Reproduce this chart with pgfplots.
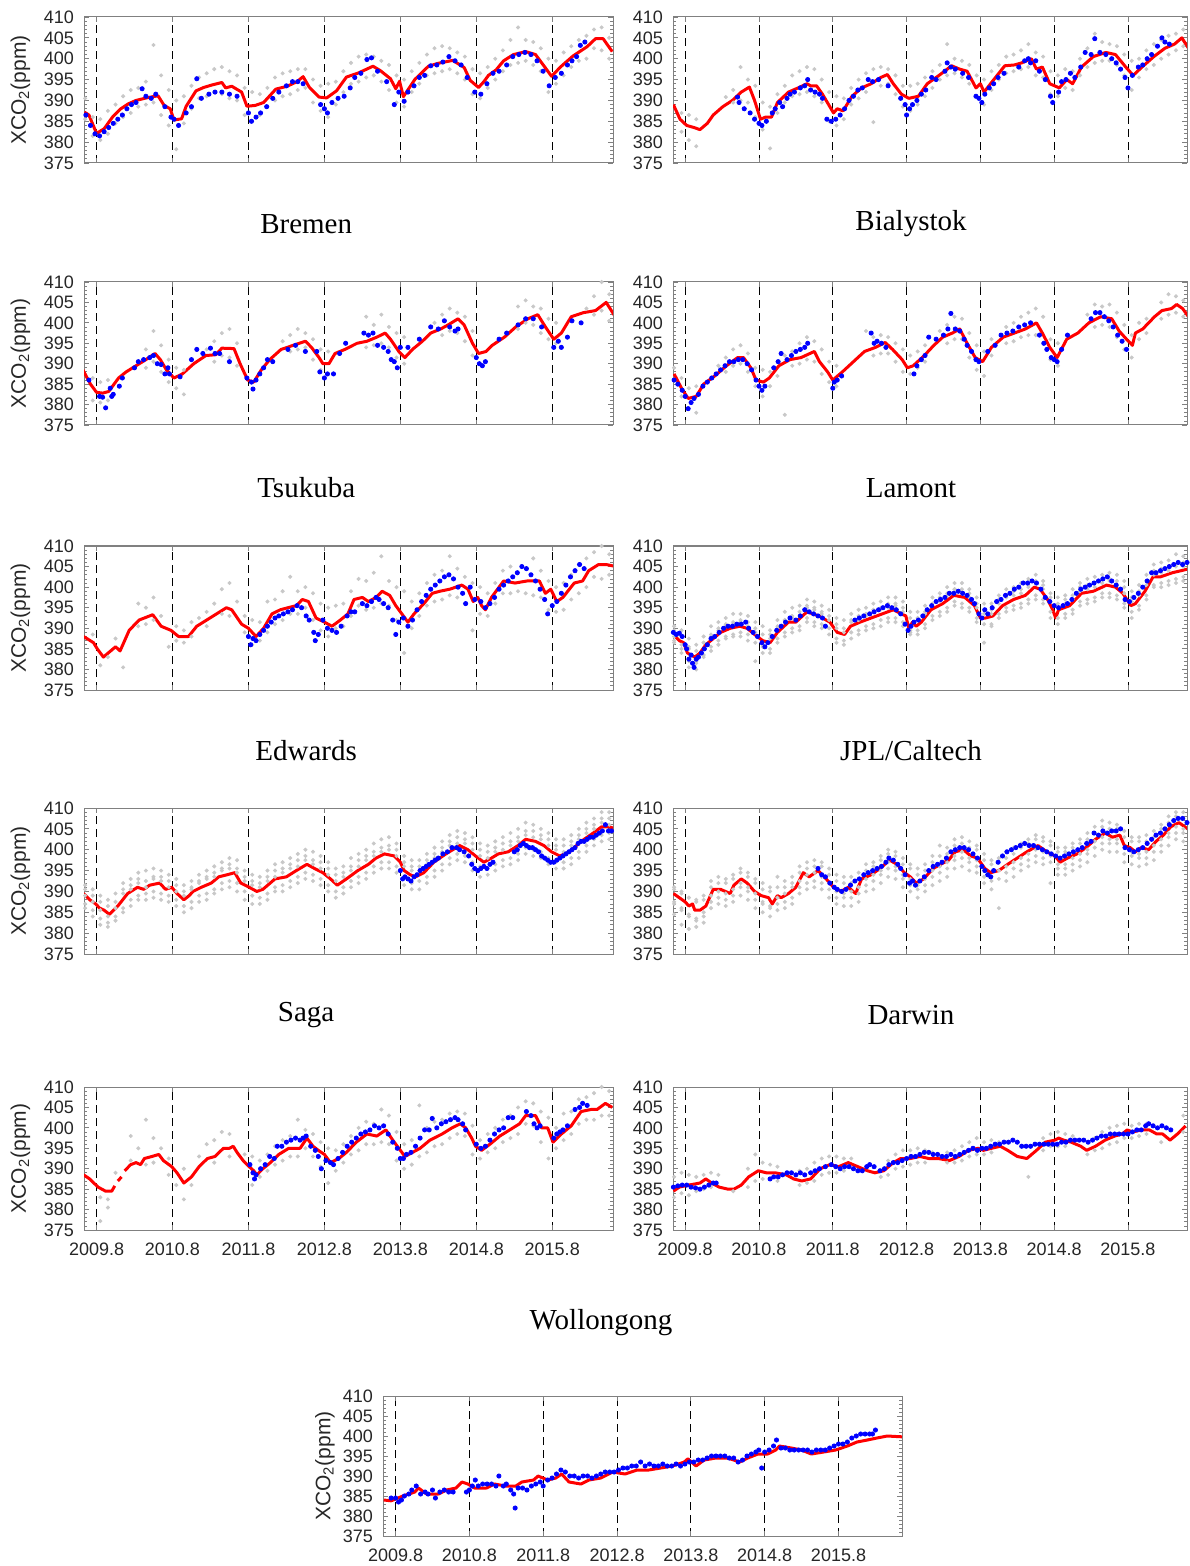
\documentclass[border=0pt]{standalone}
\usepackage{fontspec}
\setmainfont{Liberation Serif}
\setsansfont{Liberation Sans}
\usepackage{pgfplots}
\usepackage{pgfplotstable}
\pgfplotsset{compat=1.18}
\definecolor{grayc}{RGB}{200,200,200}
\definecolor{tickc}{RGB}{38,38,38}
\definecolor{framec}{RGB}{128,128,128}

\pgfplotsset{
 panel/.style={scale only axis, anchor=north west, xmin=2009.635, xmax=2016.6, ymin=375, ymax=410,
   ytick={375,380,385,390,395,400,405,410},
   xtick={2009.8,2010.8,2011.8,2012.8,2013.8,2014.8,2015.8},
   xticklabels={}, minor y tick num=4,
   xmajorgrids, major x grid style={black, dash pattern=on 4pt off 2.5pt, line width=0.45pt},
   axis line style={framec, line width=0.5pt},
   tick align=inside, major tick length=2.5pt, minor tick length=1.5pt,
   tick style={framec, line width=0.4pt},
   tick label style={font=\sffamily\fontsize{9}{9}\selectfont, text=tickc},
   yticklabel style={xshift=-1.5pt},
   xticklabel style={yshift=-2.8pt},
   /pgf/number format/assume math mode=true,
   every axis y label/.style={at={(axis description cs:-0.12,0.5)}, rotate=90, anchor=center, font=\sffamily\fontsize{10.5}{10.5}\selectfont, text=tickc},
   every axis title/.style={at={(axis description cs:0.42,1)}, anchor=center, font=\fontsize{14.5}{16}\selectfont},
 },
 yl/.style={ylabel={XCO\textsubscript{2}(ppm)}},
 xl/.style={xticklabels={2009.8,2010.8,2011.8,2012.8,2013.8,2014.8,2015.8}},
 rt/.style={title style={at={(axis description cs:0.463,1)}}},
 gpt/.style={only marks, mark=*, mark size=0.8pt, color=grayc, mark options={draw=none, fill=grayc}, forget plot},
 bpt/.style={only marks, mark=*, mark size=1.05pt, color=blue, mark options={draw=none, fill=blue}},
 rln/.style={color=red, line width=1.5pt, mark=none, line join=round, unbounded coords=jump},
}

% ---------------- gray scatter tables ----------------
\pgfplotstableread{
x g1 g2
2009.65 390.5 385.5
2009.75 386.0 381.5
2009.85 385.5 380.5
2009.95 387.5 382.0
2010.05 389.0 384.5
2010.15 391.0 386.0
2010.25 392.5 387.0
2010.35 393.0 388.5
2010.45 394.5 389.0
2010.55 403.3 389.5
2010.65 396.0 386.5
2010.75 392.5 384.0
2010.85 390.0 378.3
2010.95 391.0 384.5
2011.05 393.5 388.0
2011.15 395.5 390.5
2011.25 396.5 391.0
2011.35 397.5 392.0
2011.45 398.0 391.5
2011.55 397.0 390.5
2011.65 396.0 390.0
2011.75 393.0 386.5
2011.85 392.0 385.0
2011.95 391.5 386.5
2012.05 393.0 388.5
2012.15 395.5 390.0
2012.25 396.5 391.0
2012.35 397.0 391.5
2012.45 397.5 392.5
2012.55 397.5 393.0
2012.65 395.0 389.5
2012.75 393.5 387.5
2012.85 394.0 386.0
2012.95 394.5 389.0
2013.05 397.0 392.0
2013.15 399.0 394.0
2013.25 400.5 394.5
2013.35 401.0 395.5
2013.45 400.5 396.0
2013.55 399.5 394.5
2013.65 398.5 392.5
2013.75 396.0 389.5
2013.85 395.0 388.5
2013.95 397.0 392.0
2014.05 399.0 394.0
2014.15 401.0 396.0
2014.25 402.5 396.5
2014.35 403.0 397.0
2014.45 402.5 397.5
2014.55 401.5 396.5
2014.65 400.5 395.0
2014.75 397.5 391.5
2014.85 396.5 390.5
2014.95 398.0 393.0
2015.05 400.0 395.0
2015.15 402.0 397.0
2015.25 404.5 398.5
2015.35 407.5 399.0
2015.45 404.5 399.5
2015.55 404.0 398.5
2015.65 402.5 397.0
2015.75 400.0 392.0
2015.85 399.5 394.0
2015.95 401.5 396.0
2016.05 403.0 398.0
2016.15 404.5 399.5
2016.25 405.5 400.0
2016.35 407.0 402.5
2016.45 407.5 402.0
2016.55 405.0 400.0
}\gA

\pgfplotstableread{
x g1 g2
2009.75 387 382.5
2009.85 386.5 380.5
2009.95 385.5 379
2010.35 390.8 nan
2010.45 392.5 389.5
2010.55 398 390
2010.65 395 389.5
2010.75 393.5 386
2010.85 389.5 383
2010.95 388.5 378.5
2011.05 391.5 387
2011.15 393.5 389.5
2011.25 396 391
2011.35 397 391.5
2011.45 398 392
2011.55 397.5 391
2011.65 395 389.5
2011.75 392 385
2011.85 391 384
2011.95 390.5 385.5
2012.05 393 389
2012.15 395 390.5
2012.25 396.5 392
2012.35 397.5 384.8
2012.45 398 393.5
2012.55 397.5 394
2012.65 396 391.5
2012.75 393.5 388.5
2012.85 393.5 387.5
2012.95 394 389
2013.05 395.5 391
2013.15 397 393
2013.25 398.5 395
2013.35 403.5 396
2013.45 400 396.5
2013.55 399.5 395.5
2013.65 398.5 394
2013.75 396 391
2013.85 395 389
2013.95 397 392.5
2014.05 398.5 395
2014.15 400.5 396.5
2014.25 401 397
2014.35 402 397.5
2014.45 403.5 398
2014.55 401.5 396
2014.65 400.5 395.5
2014.75 397 391.5
2014.85 396 391
2014.95 397.5 393
2015.05 397 392.5
2015.15 400 396
2015.25 402.5 398
2015.35 406 399
2015.45 404 399.5
2015.55 403.5 399.5
2015.65 403 398.5
2015.75 401 396
2015.85 399.5 392.5
2015.95 400 395.5
2016.05 402 397.5
2016.15 403.5 398.5
2016.25 404.5 400
2016.35 405.5 401
2016.45 406 402
2016.55 407 403
}\gB

\pgfplotstableread{
x g1 g2
2009.75 386.5 381
2009.85 385.5 380.5
2009.95 386 381
2010.45 393.5 389
2010.55 398 390.5
2010.65 394.5 388
2010.75 391 385.5
2010.85 389 384
2010.95 388.5 382.5
2011.25 393.5 nan
2011.35 395.5 390.5
2011.45 397.5 392
2011.55 398.5 391.5
2011.65 395 389.5
2012.25 395.5 nan
2012.35 397 393
2012.45 398.5 393.5
2012.55 397.5 394
2012.65 396 391
2012.75 393.5 388.5
2012.85 393 387.5
2013.35 401.5 394
2013.45 399.5 394.5
2013.55 402 395
2013.65 399 394
2013.75 397.5 391.5
2013.85 396.5 390
2014.25 400 nan
2014.35 402 397
2014.45 403.5 398
2014.55 402.5 397.5
2014.65 401.5 395.5
2014.75 398 392
2015.35 404 398.5
2015.45 405.5 400
2015.55 404 399.5
2015.65 403.5 397.5
2015.75 401 396
2015.85 400 395
2016.25 403.5 nan
2016.35 406.5 402
2016.45 410 403
2016.55 407 400.5
}\gC

\pgfplotstableread{
x g1 g2
2009.65 389 386
2009.75 386.5 382
2009.85 384 379
2009.95 384.5 378
2010.25 389.5 nan
2010.35 391.5 388
2010.45 393.5 389.5
2010.55 394.5 390
2010.65 392.5 388
2010.75 389 384.5
2010.85 388.5 382
2010.95 388 384.5
2011.05 390.5 387
2011.15 392 377.5
2011.25 393 389.5
2011.35 395 390
2011.45 396.5 391
2011.55 395.5 390.5
2011.65 393.5 387.5
2011.75 390.5 385.5
2011.85 389.5 384.5
2012.25 398 nan
2012.35 396.5 392
2012.45 397 392.5
2012.55 396.5 392.5
2012.65 395 390.5
2012.75 393.5 388
2012.85 392 387.5
2012.95 393 389
2013.05 394.5 390.5
2013.25 398 nan
2013.35 399.5 395
2013.45 401.5 396
2013.55 401 396
2013.65 397.5 391.5
2013.75 394.5 388.5
2013.85 393 387
2013.95 396 392
2014.15 399 395
2014.25 400 395.5
2014.35 401.5 396.5
2014.45 402.5 397
2014.55 403.5 397
2014.65 401.5 395
2014.75 396 391
2014.85 395 389.5
2015.25 402 nan
2015.35 404.5 399
2015.45 404 399.5
2015.55 404.5 399
2015.65 402.5 396.5
2015.75 399.5 393.5
2015.85 397 391.5
2015.95 400 396
2016.05 401 397.5
2016.25 405 401
2016.35 407 402
2016.45 406.5 402.5
2016.55 405.5 401.5
}\gD

\pgfplotstableread{
x g1 g2
2009.75 388.5 nan
2009.85 nan 381
2009.95 nan 383
2010.05 387.5 nan
2010.15 nan 380.5
2010.35 396 390.5
2010.45 395 391
2010.55 397.5 392
2010.65 393 nan
2010.75 nan 385.5
2010.85 390.5 387
2010.95 389.5 386.5
2011.05 391.5 388
2011.15 392.5 nan
2011.25 394 390.5
2011.35 396 nan
2011.45 399.5 393.5
2011.55 401 393
2011.65 396.5 nan
2011.75 393 389
2011.85 392 386
2011.95 391.5 387
2012.05 396.5 389
2012.15 397 391
2012.25 399 392
2012.35 402.5 393.5
2012.45 399 393.5
2012.55 400 395
2012.65 398.5 392
2012.75 396 389.5
2012.85 395 388
2012.95 395.5 390
2013.05 396 390.5
2013.15 399 393
2013.25 402 395.5
2013.35 401.5 394.5
2013.45 403.5 395
2013.55 407.5 396
2013.65 401.5 395.5
2013.75 400 392
2013.85 399 384
2013.95 396.5 390
2014.05 398.5 393
2014.15 401 395.5
2014.25 403 396.5
2014.35 404 397
2014.45 407.5 398
2014.55 404.5 397.5
2014.65 402.5 396
2014.75 401 389.5
2014.85 400 393.5
2014.95 398.5 393
2015.05 401 396
2015.15 404 398.5
2015.25 405 398.5
2015.35 403.5 399
2015.45 404.5 398.5
2015.55 407 398
2015.65 404 397.5
2015.75 401.5 394.5
2015.85 400 394
2015.95 401 394.5
2016.05 403 397
2016.15 405.5 398.5
2016.25 407 400
2016.35 408.5 402.5
2016.45 410 402
2016.55 408 403
}\gE

\pgfplotstableread{
x g1 g2 g3 g4 g5
2009.65 390.5 386.5 388 389.5 387
2009.75 389.5 384 386 388 385
2009.85 387.5 380.5 385 385.5 382
2009.95 386 380 382 384.5 381.5
2010.05 388 383 386.5 386.5 383.5
2010.15 390.5 384.5 388 388.5 385.5
2010.25 391.5 386 389.5 390 387
2010.35 392.5 387.5 390.5 391 388
2010.45 393.5 388 391 391.5 388.5
2010.55 393.5 388 391.5 392 389
2010.65 393 387 390.5 391.5 388.5
2010.75 391.5 382 389 390 386.5
2010.85 390.5 384 386 388.5 385.5
2010.95 389.5 384 387.5 388.5 385
2011.05 392 386.5 390 390.5 387.5
2011.15 394 388 392 392 389
2011.25 395 389 392.5 393 390
2011.35 395.5 389.5 393 394 390.5
2011.45 397 391.5 395 395.5 392.5
2011.55 396.5 390.5 394.5 395 391.5
2011.65 395.5 390 393.5 394 391
2011.75 394.5 388.5 392 393 390
2011.85 392.5 386.5 390 391 387.5
2011.95 392 386 389 390 387
2012.05 393.5 387.5 391.5 392 389
2012.15 394.5 388.5 392 393 389.5
2012.25 395 389.5 393 393.5 390.5
2012.35 396 390 394 394.5 391
2012.45 396.5 390.5 394.5 395 392
2012.55 397.5 391.5 395 396 392.5
2012.65 397.5 391.5 395.5 396 392.5
2012.75 396.5 390.5 394 395 391.5
2012.85 394 388.5 389.5 392.5 389
2012.95 394 388.5 392 392.5 389.5
2013.05 395.5 390 393.5 394 391
2013.15 397.5 392 395.5 396 393
2013.25 398.5 393 396.5 397.5 394
2013.35 400 394 398 398.5 395
2013.45 401 395.5 399.5 399.5 396.5
2013.55 401 395 398.5 399.5 396
2013.65 399.5 394 397.5 398.5 395
2013.75 397.5 391.5 395 396 392.5
2013.85 396 386.5 393.5 394.5 391
2013.95 396 390.5 393.5 394.5 391
2014.05 398 392.5 396 397 393.5
2014.15 399.5 394 397.5 398 395
2014.25 400 394.5 398 399 395.5
2014.35 401 395 398.5 399.5 396
2014.45 402 396 400 400.5 397
2014.55 403 397 401 401.5 398
2014.65 401.5 396 399.5 400.5 397
2014.75 398.5 392.5 396.5 397.5 394
2014.85 397.5 391 395 396 392.5
2014.95 398 392.5 396 397 393.5
2015.05 399.5 393.5 397 398 394.5
2015.15 401 395.5 399 400 396.5
2015.25 402 396 399.5 400.5 397
2015.35 402.5 396.5 400 401 397.5
2015.45 403 397.5 401 402 398.5
2015.55 403.5 397.5 401.5 402 398.5
2015.65 403 397 400.5 401.5 398
2015.75 401.5 395 398.5 400 396
2015.85 399 392.5 396.5 397.5 394
2015.95 400.5 394.5 398 399 395.5
2016.05 403 397 400.5 401.5 398
2016.15 405.5 400 403 404 400.5
2016.25 406 400 403.5 404.5 401
2016.35 406.5 400.5 404 405 401.5
2016.45 408 401 405 405.5 402
2016.55 407.5 401.5 405 406 402.5
}\gF

\pgfplotstableread{
x g1 g2 g3 g4 g5
2009.65 391.5 386 389 390.5 387
2009.75 390.5 384 387.5 389 385.5
2009.85 389 382 385.5 387.5 383.5
2009.95 388 381.5 384 386.5 382.5
2010.05 389.5 383 386 387.5 384
2010.15 392 385 389.5 390.5 386
2010.25 393 386.5 390.5 391.5 388
2010.35 394.5 388 392 393 389
2010.45 395 388 391 392.5 389.5
2010.55 395.5 388.5 393 393.5 390
2010.65 395 388 392.5 393.5 389.5
2010.75 394 387.5 391 392.5 389
2010.85 393 386.5 390 391.5 388
2010.95 391.5 385 389 390 386.5
2011.05 392.5 386 390.5 391 387.5
2011.15 394 387.5 392 392.5 389
2011.25 395 388 393 393.5 389.5
2011.35 396 389.5 393.5 394.5 390.5
2011.45 397 390.5 395 395.5 392
2011.55 398 391 395.5 396.5 392.5
2011.65 397.5 390 394.5 395.5 392
2011.75 395 388 392.5 393.5 390
2011.85 394 387 391.5 392.5 389
2011.95 393.5 387 391 392 388.5
2012.05 395 388 392.5 393.5 389.5
2012.15 396.5 390 393.5 395 391
2012.25 397 390 394.5 395.5 391.5
2012.35 398 391 395.5 396.5 392.5
2012.45 399 392 396 397.5 393.5
2012.55 400 393 397.5 398.5 394.5
2012.65 399.5 392.5 396.5 397.5 394
2012.75 398.5 391.5 395.5 397 393
2012.85 397 390 394 395.5 391.5
2012.95 395.5 388.5 392.5 394 390
2013.05 396 389.5 393.5 394.5 391
2013.15 398 391 395 396 392.5
2013.25 399 392 396 397.5 393.5
2013.35 400 393 397.5 398.5 394.5
2013.45 401.5 394.5 398.5 399.5 396
2013.55 402.5 395.5 399.5 400.5 397
2013.65 403 395.5 400 401 397
2013.75 401.5 394.5 398.5 400 396
2013.85 398.5 391.5 396 397 393.5
2013.95 397.5 390.5 395 396 392
2014.05 397.5 390.5 395 396 392.5
2014.15 399 392 396.5 397.5 393.5
2014.25 400.5 393.5 398 399 395
2014.35 402 395 399.5 400.5 396.5
2014.45 403.5 396.5 401 402 398
2014.55 404.5 397.5 401.5 403 399
2014.65 404 397 401.5 402.5 398.5
2014.75 403 395 400 401.5 397
2014.85 401.5 393.5 398.5 400 396
2014.95 401 394 398 399.5 395.5
2015.05 402 395 399.5 400.5 396.5
2015.15 403 396 400 401.5 397.5
2015.25 404 396.5 401 402 398
2015.35 405 397.5 402 403 399
2015.45 406.5 399 403.5 404.5 400.5
2015.55 406 398.5 403 404.5 400
2015.65 405 398 402.5 403.5 399.5
2015.75 404 396.5 401 402.5 398
2015.85 402.5 395.5 400 401 397
2015.95 402.5 395.5 399.5 401 397
2016.05 403.5 396.5 401 402 398
2016.15 405 398 402.5 403.5 399.5
2016.25 406.5 399.5 404 405 401
2016.35 407.5 401 405 406 402.5
2016.45 409 402 406.5 407.5 403.5
2016.55 409 402.5 406 407.5 404
}\gG

\pgfplotstableread{
x g1 g2 g3 g4 g5
2009.65 390.5 384.5 387.5 391 387
2009.75 389.5 382 385.5 390 386
2009.85 388.5 381 384 388.5 384.5
2009.95 388 381.5 383.5 387.5 383
2010.05 389 382.5 385 388 384
2010.15 392.5 386 389 391 387.5
2010.25 393.5 387 390 392 388.5
2010.35 393 386.5 389.5 392 388
2010.45 394 387.5 390.5 393 389
2010.55 395.5 389 392 394.5 391
2010.65 394.5 388 391 393.5 390
2010.75 393 386 389.5 392 388
2010.85 392 385 387.5 390.5 387
2010.95 391 384 386.5 390 386
2011.05 393.5 385.5 388.5 391 387
2011.15 392.5 386 389.5 391 387.5
2011.25 393.5 387 391 392 388.5
2011.35 396 389.5 392.5 394.5 391
2011.45 397 390.5 394 395.5 392
2011.55 397.5 391 394.5 396 392.5
2011.65 397 390.5 393.5 396 392
2011.75 395.5 388.5 392 394 390.5
2011.85 394 387 390 392.5 388.5
2011.95 393.5 386.5 389.5 392 388.5
2012.05 393.5 386.5 390 392 388.5
2012.15 394.5 387.5 391 393 389.5
2012.25 396.5 390 393 395 391.5
2012.35 397 390.5 394 396 392.5
2012.45 398.5 392 395 397.5 394
2012.55 400 393.5 397 399 395.5
2012.65 399.5 393 396 398.5 395
2012.75 398 391 394 396.5 393
2012.85 396.5 390 393 395.5 391.5
2012.95 395.5 388.5 391.5 394 390.5
2013.05 396.5 390 393 395 391.5
2013.15 398.5 391.5 395 397 393.5
2013.25 401 392.5 396 398.5 394.5
2013.35 400.5 393.5 397 399 395.5
2013.45 402.5 395.5 398.5 401 397.5
2013.55 403 396 399.5 401.5 398
2013.65 402 395 398 400.5 397
2013.75 401 394.5 397.5 400 396
2013.85 399 392 395 397.5 393.5
2013.95 397.5 390.5 393.5 396.5 392.5
2014.05 398 386 395 397 393
2014.15 399.5 392.5 396 398 394.5
2014.25 400.5 393.5 397 399 395.5
2014.35 401.5 395 398 400.5 396.5
2014.45 402.5 396 399 401.5 397.5
2014.55 403.5 397 400 402.5 398.5
2014.65 403 396.5 399.5 402 398
2014.75 402 392 398.5 401 397
2014.85 400.5 394 396.5 399.5 395.5
2014.95 400.5 394 396.5 399.5 395.5
2015.05 401.5 395 398 400.5 396.5
2015.15 402.5 396 399 401.5 397.5
2015.25 404 397 400 402.5 399
2015.35 405.5 398.5 402 404 400.5
2015.45 407 400 403 405.5 401.5
2015.55 406.5 399.5 402.5 405 401.5
2015.65 406 399.5 402.5 405 401.5
2015.75 404.5 397 400.5 403 399
2015.85 403 396.5 399.5 402 398.5
2015.95 403 396 399 402 398
2016.05 403.5 396.5 399.5 402 398
2016.15 404.5 397.5 401 403 399.5
2016.25 406 399.5 402.5 405 401
2016.35 408 401 404 406.5 403
2016.45 409 402.5 405.5 408 404
2016.55 409 402 405 407.5 404
}\gH

\pgfplotstableread{
x g1 g2
2009.85 383 377.2
2009.95 382.5 380.5
2010.05 389 nan
2010.25 398 392
2010.35 395 nan
2010.45 402 391
2010.55 397.5 391.5
2010.65 395 nan
2010.75 392.5 388.5
2010.85 nan 386
2010.95 390 382.5
2011.05 nan 386
2011.15 393 nan
2011.25 396 nan
2011.35 397 391.5
2011.45 399 nan
2011.55 398.5 393
2011.75 393.5 nan
2011.85 393 386
2011.95 392 388
2012.05 393.5 389.5
2012.15 395.5 391
2012.25 397 392
2012.35 398 393
2012.45 402 393
2012.55 399.5 395
2012.65 398.5 393
2012.75 396.5 390.5
2012.85 395 386.5
2012.95 394.5 389.5
2013.05 396 391.5
2013.15 398 393.5
2013.25 400 394.5
2013.35 401.5 396
2013.45 401 396
2013.55 404.5 396.5
2013.65 403 396
2013.75 399 392
2013.85 396 390
2013.95 397 391
2014.05 405.5 393
2014.15 400 394
2014.25 401.5 395.5
2014.35 402 396
2014.45 403.5 397.5
2014.55 404 398.5
2014.65 403.5 398
2014.75 400.5 393.5
2014.85 397 392.5
2014.95 398.5 394
2015.05 400 395
2015.15 402 396.5
2015.25 403 397.5
2015.35 405 398.5
2015.45 406.5 401
2015.55 406 400.5
2015.65 404 396.5
2015.75 402.5 392.5
2015.85 400 395
2015.95 403.5 397
2016.05 404 398.5
2016.15 407 401
2016.25 407.5 402
2016.35 408.5 402
2016.45 410 403
2016.55 409 403
}\gI

\pgfplotstableread{
x g1 g2
2009.65 388 383
2009.75 389 384
2009.85 388.5 383.5
2009.95 388 384.5
2010.05 388.5 385
2010.15 389 385.5
2010.25 388.5 nan
2010.45 nan 384.5
2010.65 390 385.5
2010.75 393.5 387
2010.85 391.5 387.5
2010.95 391 387.5
2011.05 390.5 387
2011.35 389.5 386
2011.45 390 386.5
2011.55 391.5 387
2011.65 392.5 388.5
2011.75 393 389
2011.85 393 389
2011.95 392.5 389.5
2012.05 392.5 nan
2012.45 nan 388
2012.55 392 388.5
2012.65 393.5 390
2012.75 394.5 390.5
2012.85 394.5 391
2012.95 395 391.5
2013.05 394.5 391.5
2013.15 394 nan
2013.35 394 391.5
2013.45 394.5 391.5
2013.55 395.5 392
2013.65 396.5 393
2013.75 397.5 393.5
2013.85 396.5 393.5
2013.95 397 394
2014.05 396.5 nan
2014.45 nan 388
2014.65 397.5 394.5
2014.75 398.5 395.5
2014.85 399 395.5
2014.95 398.5 395.5
2015.05 398 nan
2015.25 nan 393.5
2015.35 397.5 394.5
2015.45 399 395
2015.55 400 396
2015.65 400.5 396.5
2015.75 401 397.5
2015.85 400.5 397.5
2015.95 401 398
2016.05 401 398.5
2016.15 400.5 nan
2016.25 nan 396.5
2016.55 403 399
}\gJ

\begin{document}
\begin{tikzpicture}
\useasboundingbox (0,0) rectangle (594.5pt,-783pt);

% ===== A (row 1 left) =====
\begin{axis}[panel, yl, at={(42pt,-8.5pt)}, width=264.5pt, height=73pt]
\addplot[gpt] table[x=x,y=g1]{\gA};
\addplot[gpt] table[x=x,y=g2]{\gA};
\addplot[bpt] coordinates {(2009.66,386.5)(2009.72,384)(2009.78,382)(2009.84,381.5)(2009.9,382.5)(2009.96,383.5)(2010.02,384.5)(2010.08,385.5)(2010.14,386.5)(2010.2,388)(2010.26,389)(2010.32,389.5)(2010.4,392.8)(2010.45,391)(2010.52,390.5)(2010.58,391.5)(2010.7,388.5)(2010.78,386)(2010.82,385.5)(2010.88,384)(2010.98,387)(2011.05,388.5)(2011.12,395.2)(2011.18,390.5)(2011.28,391.5)(2011.36,392)(2011.45,392)(2011.55,391.5)(2011.65,391)(2011.8,387)(2011.84,385)(2011.9,386)(2011.96,387)(2012.04,388.5)(2012.12,390.5)(2012.2,392)(2012.3,393.5)(2012.38,394.5)(2012.45,394.5)(2012.52,394)(2012.75,389)(2012.8,388)(2012.84,387)(2012.9,389.5)(2012.98,390.5)(2013.06,391)(2013.14,393)(2013.2,395.5)(2013.28,396.5)(2013.36,399.8)(2013.42,400.2)(2013.5,397)(2013.62,394.5)(2013.72,389)(2013.78,392)(2013.85,389.8)(2013.9,392)(2013.98,393.5)(2014.05,395.5)(2014.12,396)(2014.2,398.3)(2014.28,398.5)(2014.36,399.2)(2014.44,400.5)(2014.52,399.5)(2014.6,398.5)(2014.68,395.5)(2014.78,392)(2014.86,391.5)(2014.94,394)(2015.02,396.5)(2015.1,397)(2015.2,398.5)(2015.28,400.5)(2015.36,401)(2015.44,401.5)(2015.52,401)(2015.6,399.5)(2015.68,397)(2015.76,393.5)(2015.84,395.5)(2015.92,396.5)(2016.0,398.5)(2016.06,399.5)(2016.12,400.5)(2016.17,403.2)(2016.23,404)};
\addplot[rln] coordinates {(2009.64,387.2)(2009.70,386.5)(2009.80,382.1)(2009.90,383.2)(2010.01,386)(2010.12,388)(2010.22,389.2)(2010.32,390)(2010.48,390.7)(2010.61,391.1)(2010.69,388.8)(2010.77,388)(2010.82,385.3)(2010.92,385.6)(2010.98,388.6)(2011.11,392.3)(2011.21,393.1)(2011.32,393.7)(2011.45,394.3)(2011.50,393)(2011.58,393.4)(2011.71,392)(2011.78,388.6)(2011.89,388.8)(2012.00,389.5)(2012.16,392.7)(2012.31,393.4)(2012.44,394.5)(2012.52,395.7)(2012.60,393.2)(2012.73,390.8)(2012.83,390.6)(2012.96,392.3)(2013.09,395.6)(2013.25,396.6)(2013.44,398.2)(2013.54,397.1)(2013.67,395.2)(2013.74,392.8)(2013.79,394.6)(2013.84,390.9)(2013.99,395)(2014.17,398.2)(2014.30,398.9)(2014.49,399.6)(2014.64,397.9)(2014.72,394.8)(2014.83,393.1)(2014.90,394.5)(2014.96,396)(2015.06,397.3)(2015.16,399.5)(2015.29,401)(2015.45,401.7)(2015.58,401)(2015.71,397.8)(2015.79,395.8)(2015.92,398.2)(2016.07,400.6)(2016.26,402.9)(2016.37,404.8)(2016.47,404.8)(2016.59,401.7)};
\end{axis}

% ===== B (row 1 right) =====
\begin{axis}[panel, at={(336.5pt,-8.5pt)}, width=257pt, height=73pt]
\addplot[gpt] table[x=x,y=g1]{\gB};
\addplot[gpt] table[x=x,y=g2]{\gB};
\addplot[bpt] coordinates {(2010.51,390.8)(2010.53,389.5)(2010.6,388)(2010.68,387)(2010.74,385.5)(2010.8,384.5)(2010.84,384)(2010.9,385)(2010.98,387)(2011.02,388)(2011.08,389.5)(2011.12,388.5)(2011.18,390.5)(2011.22,391.5)(2011.28,392)(2011.36,393)(2011.42,393.5)(2011.46,395)(2011.5,392.5)(2011.56,392)(2011.62,391.5)(2011.66,390.5)(2011.72,385.5)(2011.78,385)(2011.84,385.5)(2011.9,386.5)(2011.96,388)(2012.02,390)(2012.08,391)(2012.14,392.5)(2012.2,393)(2012.28,395)(2012.34,394.5)(2012.42,395)(2012.55,393.5)(2012.72,390.5)(2012.78,389)(2012.8,386.5)(2012.84,388)(2012.88,389)(2012.94,390)(2013.0,391.5)(2013.06,392.5)(2013.14,395.5)(2013.2,395)(2013.32,397)(2013.35,399)(2013.4,398)(2013.46,397.5)(2013.56,396.5)(2013.64,395.5)(2013.74,391)(2013.78,390.5)(2013.82,389.5)(2013.86,391.5)(2013.92,393)(2013.98,394)(2014.04,395.5)(2014.12,396.5)(2014.32,398)(2014.4,399.5)(2014.45,400)(2014.48,399)(2014.55,399.5)(2014.6,397)(2014.68,395)(2014.75,391)(2014.78,389.5)(2014.86,392)(2014.9,394.5)(2014.96,395)(2015.02,396.5)(2015.08,395.5)(2015.16,398)(2015.22,401.5)(2015.3,401)(2015.35,404.8)(2015.42,401.5)(2015.5,401)(2015.58,400)(2015.64,399)(2015.7,397.5)(2015.76,395.5)(2015.8,393)(2015.86,396)(2015.94,398)(2016.0,398.5)(2016.06,400)(2016.12,401)(2016.2,403)(2016.26,405)(2016.3,404)(2016.36,403.5)};
\addplot[rln] coordinates {(2009.64,389)(2009.73,385.5)(2009.82,384)(2009.92,383.5)(2010.0,383)(2010.1,384.5)(2010.18,386.5)(2010.31,388.5)(2010.44,390)(2010.56,392)(2010.67,393.2)(2010.74,390)(2010.82,385.5)(2010.89,386)(2010.97,386)(2011.05,389.5)(2011.2,392)(2011.33,393)(2011.45,394)(2011.5,393.5)(2011.58,393.5)(2011.66,391.5)(2011.71,390)(2011.81,387)(2011.86,388)(2011.94,387.5)(2012.06,391)(2012.19,393)(2012.32,394)(2012.45,395.5)(2012.54,396.2)(2012.62,394)(2012.73,391.5)(2012.83,390.5)(2012.96,391)(2013.08,394)(2013.24,396)(2013.41,398.3)(2013.52,397.5)(2013.62,397)(2013.74,393)(2013.8,394)(2013.85,392)(2013.96,394.5)(2014.13,398.3)(2014.26,398.5)(2014.36,399)(2014.49,400)(2014.56,397.5)(2014.64,398)(2014.74,394)(2014.87,393)(2014.97,395)(2015.05,394)(2015.17,398)(2015.33,400.5)(2015.5,401.5)(2015.63,401)(2015.77,398)(2015.87,396)(2015.99,398)(2016.15,400.5)(2016.3,402.5)(2016.43,403.5)(2016.53,405)(2016.62,402.5)};
\end{axis}

% ===== C (row 2 left) Bremen title =====
\begin{axis}[panel, yl, at={(42pt,-141pt)}, width=264.5pt, height=71.5pt, title={Bremen}, title style={yshift=29pt}]
\addplot[gpt] table[x=x,y=g1]{\gC};
\addplot[gpt] table[x=x,y=g2]{\gC};
\addplot[bpt] coordinates {(2009.62,388.5)(2009.7,386)(2009.84,382)(2009.88,381.8)(2009.92,379.2)(2009.98,384)(2010.0,382)(2010.02,382.5)(2010.1,384.5)(2010.14,386.5)(2010.3,389)(2010.35,390.5)(2010.42,391)(2010.5,391.5)(2010.55,392)(2010.6,390)(2010.65,389.8)(2010.7,387.5)(2010.74,389)(2010.76,387.5)(2010.9,386.8)(2011.05,391)(2011.12,393.5)(2011.2,392.5)(2011.3,393.8)(2011.36,392.5)(2011.42,392.5)(2011.55,390.5)(2011.78,386.5)(2011.84,385.5)(2011.86,383.8)(2011.9,386)(2011.95,387.5)(2012.0,389)(2012.05,391)(2012.12,390.5)(2012.32,393.5)(2012.42,394.5)(2012.55,393)(2012.7,393)(2012.74,388)(2012.8,386.5)(2012.84,387.5)(2012.92,387.5)(2013.0,392.5)(2013.08,395)(2013.32,397.5)(2013.38,397)(2013.44,397.5)(2013.5,394.5)(2013.58,394)(2013.64,393)(2013.68,391)(2013.72,390.5)(2013.76,389)(2013.8,394)(2013.9,394)(2014.05,396)(2014.2,399)(2014.3,398.5)(2014.38,400.5)(2014.45,399)(2014.52,398)(2014.56,398.5)(2014.8,391.5)(2014.84,390)(2014.88,389.5)(2014.92,390.5)(2015.1,396)(2015.2,397.5)(2015.35,399.5)(2015.45,401)(2015.55,401)(2015.66,399)(2015.82,394)(2015.88,395.5)(2015.92,394)(2016.0,396.5)(2016.06,400.5)(2016.18,400)};
\addplot[rln] coordinates {(2009.62,388.5)(2009.72,385)(2009.8,383)(2009.88,382.8)(2009.96,383.2)(2010.09,386.5)(2010.19,388)(2010.32,389.5)(2010.45,391)(2010.57,392.5)(2010.64,391)(2010.72,388.5)(2010.82,386.5)(2010.93,387.5)(2011.08,390)(2011.24,392)(2011.37,392.2)(2011.45,393.8)(2011.61,393.7)(2011.69,390)(2011.79,386)(2011.87,385.5)(2011.97,388.5)(2012.08,391)(2012.23,393.5)(2012.39,394.5)(2012.55,395.5)(2012.63,394)(2012.73,391.5)(2012.78,390)(2012.86,390)(2012.94,392.5)(2013.07,393.5)(2013.23,395)(2013.36,395.5)(2013.49,396.5)(2013.6,397.5)(2013.67,396)(2013.78,393)(2013.86,391.5)(2013.96,393.5)(2014.09,395.5)(2014.2,397.5)(2014.33,398.5)(2014.43,399.5)(2014.56,401)(2014.64,399.5)(2014.75,395)(2014.83,392.5)(2014.93,393)(2015.01,394.5)(2015.17,396.5)(2015.32,399)(2015.48,401)(2015.61,402)(2015.71,399)(2015.82,396)(2015.92,397.5)(2016.05,401.5)(2016.21,402.5)(2016.37,403)(2016.51,405)(2016.63,401.5)};
\end{axis}

% ===== D (row 2 right) Bialystok title =====
\begin{axis}[panel, rt, at={(336.5pt,-141pt)}, width=257pt, height=71.5pt, title={Bialystok}, title style={yshift=29pt}]
\addplot[gpt] table[x=x,y=g1]{\gD};
\addplot[gpt] table[x=x,y=g2]{\gD};
\addplot[bpt] coordinates {(2009.65,386)(2009.7,385)(2009.76,383.5)(2009.8,382)(2009.84,379)(2009.88,380.5)(2009.92,381.5)(2009.98,382.5)(2010.04,384.5)(2010.1,385.5)(2010.16,386.5)(2010.22,387.5)(2010.28,388.5)(2010.34,389.5)(2010.4,390.5)(2010.46,390.5)(2010.52,391)(2010.58,391)(2010.64,390)(2010.7,388.5)(2010.76,386)(2010.8,384.5)(2010.84,383.5)(2010.88,384.5)(2011.0,389)(2011.06,390.5)(2011.1,392.5)(2011.18,391)(2011.24,392)(2011.3,393)(2011.36,393.5)(2011.42,394)(2011.46,395)(2011.8,384)(2011.82,385.5)(2011.86,386)(2011.92,387)(2012.32,397.5)(2012.36,395)(2012.4,395.5)(2012.46,395)(2012.52,394)(2012.9,387.5)(2012.94,389.5)(2013.0,391)(2013.05,392)(2013.1,396.5)(2013.2,396)(2013.3,397)(2013.36,398.5)(2013.4,402.3)(2013.46,398.5)(2013.52,398)(2013.58,396)(2013.62,394.5)(2013.68,393)(2013.74,391)(2013.78,390.5)(2013.9,393)(2014.0,394.5)(2014.08,397)(2014.16,397.5)(2014.24,398)(2014.32,399)(2014.4,399.5)(2014.48,400)(2014.6,397)(2014.66,395)(2014.7,393.5)(2014.76,391.5)(2014.8,391)(2014.84,390.5)(2014.9,393.5)(2014.98,397)(2015.3,401)(2015.36,402.5)(2015.42,402.5)(2015.48,401.5)(2015.54,400.5)(2015.6,399)(2015.66,397)(2015.72,395.5)(2015.78,393.5)};
\addplot[rln] coordinates {(2009.65,387.5)(2009.75,384)(2009.84,381.5)(2009.95,382)(2010.05,385)(2010.2,387)(2010.36,389.5)(2010.51,391.5)(2010.59,391.5)(2010.69,389)(2010.76,386)(2010.86,385.5)(2010.94,386.5)(2011.07,389.5)(2011.22,391)(2011.37,391.5)(2011.55,393)(2011.62,390.5)(2011.73,388)(2011.8,386)(2011.93,388)(2012.08,390.5)(2012.23,393)(2012.38,394)(2012.51,395.2)(2012.61,393.5)(2012.74,391)(2012.81,389)(2012.89,389.5)(2013.04,392)(2013.17,394.5)(2013.29,396.5)(2013.42,397.5)(2013.52,398.5)(2013.62,395)(2013.73,391.5)(2013.83,390.5)(2013.95,394)(2014.11,396.5)(2014.26,397.5)(2014.41,398.5)(2014.56,400)(2014.64,397.5)(2014.74,394)(2014.84,391.5)(2014.97,396)(2015.12,397.5)(2015.27,400)(2015.43,401.5)(2015.58,401)(2015.68,398)(2015.78,396)(2015.86,394.5)(2015.9,397.5)(2016.0,398.5)(2016.16,401.5)(2016.26,403)(2016.39,403.5)(2016.46,404.5)(2016.54,403.5)(2016.62,401.5)};
\end{axis}

% ===== E (row 3 left) Tsukuba title =====
\begin{axis}[panel, yl, at={(42pt,-273pt)}, width=264.5pt, height=72pt, title={Tsukuba}, title style={yshift=29pt}]
\addplot[gpt] table[x=x,y=g1]{\gE};
\addplot[gpt] table[x=x,y=g2]{\gE};
\addplot[bpt] coordinates {(2011.8,388)(2011.83,386)(2011.86,387.5)(2011.9,387)(2011.95,388.5)(2012.0,389.5)(2012.05,390.5)(2012.1,391.5)(2012.15,392.5)(2012.2,393)(2012.26,393.5)(2012.32,394)(2012.38,394.5)(2012.44,395.5)(2012.5,395)(2012.56,393)(2012.6,392)(2012.66,389)(2012.68,387)(2012.72,388.5)(2012.78,392)(2012.84,390)(2012.9,389.5)(2012.96,389)(2013.02,390.5)(2013.1,393)(2013.15,394)(2013.2,394)(2013.3,396)(2013.36,395.5)(2013.42,396.5)(2013.48,397.5)(2013.52,397)(2013.58,396)(2013.64,395)(2013.7,392)(2013.74,388.5)(2013.78,391.5)(2013.84,392.5)(2013.9,390.5)(2013.96,392)(2014.02,394.5)(2014.08,396.5)(2014.14,398)(2014.2,399.5)(2014.26,400.5)(2014.32,401.5)(2014.38,402.5)(2014.44,403)(2014.5,402)(2014.56,400)(2014.62,398.5)(2014.66,396)(2014.72,400)(2014.78,397)(2014.86,396.5)(2014.92,395)(2014.98,396)(2015.04,397.5)(2015.1,399.5)(2015.16,400.5)(2015.22,401.5)(2015.28,402.5)(2015.34,403.5)(2015.4,405)(2015.46,404.5)(2015.52,403)(2015.58,401.5)(2015.64,399.5)(2015.7,397)(2015.74,393.5)(2015.8,395.5)(2015.86,396.5)(2015.92,398.5)(2015.98,400.5)(2016.04,402.5)(2016.1,404)(2016.16,405.5)(2016.22,404.5)};
\addplot[rln] coordinates {(2009.63,388)(2009.76,386.5)(2009.81,385)(2009.89,383)(2010.05,385.5)(2010.11,384.5)(2010.23,389.5)(2010.36,392)(2010.54,393.3)(2010.65,390.5)(2010.78,389.5)(2010.88,388)(2011.01,388)(2011.12,390.5)(2011.25,392)(2011.38,393.5)(2011.51,395)(2011.58,394.5)(2011.71,391)(2011.8,390)(2011.9,388)(2012.0,390)(2012.11,393.5)(2012.22,394.5)(2012.32,395)(2012.43,395.5)(2012.51,397)(2012.59,396.5)(2012.69,392.5)(2012.8,391.5)(2012.9,390.5)(2013.01,392)(2013.11,393.5)(2013.19,397)(2013.3,397.5)(2013.38,396.5)(2013.48,397.5)(2013.56,399)(2013.66,398)(2013.74,395.5)(2013.82,393.5)(2013.9,391.5)(2013.98,393.5)(2014.11,396)(2014.22,398.5)(2014.32,399)(2014.45,399.5)(2014.61,400.5)(2014.69,399.5)(2014.76,396.5)(2014.82,397.5)(2014.87,395.5)(2014.92,394.5)(2015.0,397.5)(2015.16,401.5)(2015.31,401)(2015.47,401.5)(2015.63,401.5)(2015.71,398.5)(2015.78,399.5)(2015.86,396.5)(2015.94,397.5)(2016.09,401)(2016.2,401.5)(2016.28,404)(2016.41,405.5)(2016.51,405.5)(2016.64,405)};
\end{axis}

% ===== F (row 3 right) Lamont title =====
\begin{axis}[panel, rt, at={(336.5pt,-273pt)}, width=257pt, height=72pt, title={Lamont}, title style={yshift=29pt}]
\addplot[gpt] table[x=x,y=g1]{\gF};
\addplot[gpt] table[x=x,y=g2]{\gF};
\addplot[gpt] table[x=x,y=g3]{\gF};
\addplot[gpt] table[x=x,y=g4]{\gF};
\addplot[gpt] table[x=x,y=g5]{\gF};
\addplot[bpt] coordinates {(2009.64,389)(2009.68,388.5)(2009.72,388.8)(2009.76,388)(2009.8,386)(2009.82,385)(2009.85,382.5)(2009.88,383.5)(2009.9,381.5)(2009.92,380.5)(2009.95,382.5)(2009.98,383)(2010.02,384)(2010.06,385)(2010.1,386)(2010.15,387.5)(2010.2,388)(2010.26,389)(2010.32,390)(2010.38,390.5)(2010.44,390.5)(2010.5,391)(2010.56,391)(2010.62,391.5)(2010.66,390)(2010.72,389)(2010.78,388)(2010.84,386.5)(2010.88,385.5)(2010.92,386.5)(2010.98,388)(2011.04,389.5)(2011.1,390.5)(2011.16,391.5)(2011.22,392.5)(2011.3,392)(2011.36,393)(2011.42,394.5)(2011.48,394)(2011.54,393.5)(2011.6,393)(2011.66,392.5)(2011.7,390.5)(2012.1,392)(2012.16,392.5)(2012.22,393)(2012.3,393.5)(2012.36,394)(2012.42,394.5)(2012.48,395)(2012.54,395.5)(2012.6,395)(2012.66,394.5)(2012.72,393.5)(2012.78,391)(2012.82,389.5)(2012.86,390.5)(2012.9,391.5)(2012.96,392)(2013.02,393)(2013.08,394.5)(2013.14,395.5)(2013.2,396.5)(2013.26,397)(2013.32,397.5)(2013.38,398.5)(2013.44,398.5)(2013.5,399)(2013.56,398.5)(2013.62,398)(2013.68,397)(2013.72,396)(2013.78,393.5)(2013.82,392.5)(2013.86,394.5)(2013.9,393.5)(2013.96,395)(2014.02,396.5)(2014.08,397)(2014.14,398)(2014.2,398.5)(2014.26,399.5)(2014.32,400)(2014.38,401)(2014.44,401)(2014.5,401.5)(2014.56,401)(2014.62,399.5)(2014.68,397.5)(2014.74,396.5)(2014.8,395.5)(2014.86,395)(2014.92,395.5)(2014.98,396)(2015.04,397)(2015.1,398.5)(2015.16,399.5)(2015.22,400)(2015.28,400.5)(2015.34,401)(2015.4,401.5)(2015.46,402)(2015.52,402.5)(2015.58,401.5)(2015.64,400.5)(2015.7,399.5)(2015.76,397)(2015.82,396.5)(2015.88,397.5)(2015.94,398.5)(2016.0,400)(2016.06,401.5)(2016.12,403.5)(2016.18,403.5)(2016.24,404)(2016.3,404.5)(2016.36,405)(2016.42,405.5)(2016.48,406)(2016.54,405.5)(2016.6,406)};
\addplot[rln] coordinates {(2009.64,388.5)(2009.72,387)(2009.78,386.5)(2009.83,384)(2009.93,383)(2010.0,384)(2010.08,386)(2010.18,387.5)(2010.28,389)(2010.41,390)(2010.54,390.5)(2010.64,390)(2010.74,388.5)(2010.85,387)(2010.95,386.5)(2011.05,389)(2011.2,391.5)(2011.3,391.5)(2011.45,394)(2011.61,393)(2011.76,391.5)(2011.86,389)(2011.96,388.5)(2012.04,390.5)(2012.17,391.5)(2012.32,392.5)(2012.47,393.5)(2012.62,394.5)(2012.73,393.5)(2012.79,393)(2012.83,390)(2012.88,391.5)(2012.93,390.5)(2013.0,391.5)(2013.13,394.5)(2013.29,396)(2013.44,398)(2013.59,397.5)(2013.72,395.5)(2013.8,392.5)(2013.87,392.5)(2013.97,393)(2014.1,395.5)(2014.25,397)(2014.41,398)(2014.53,400)(2014.61,399.5)(2014.71,397)(2014.78,394.5)(2014.82,392.5)(2014.86,394.5)(2015.01,395.5)(2015.17,398.5)(2015.33,399)(2015.51,400.5)(2015.63,400)(2015.73,398.5)(2015.84,395.5)(2015.9,396)(2016.03,399)(2016.14,402.5)(2016.24,402.5)(2016.4,403.5)(2016.52,404)(2016.63,404.5)};
\end{axis}

% ===== G (row 4 left) Edwards title =====
\begin{axis}[panel, yl, at={(42pt,-404pt)}, width=264.5pt, height=73pt, title={Edwards}, title style={yshift=28.5pt}]
\addplot[gpt] table[x=x,y=g1]{\gG};
\addplot[gpt] table[x=x,y=g2]{\gG};
\addplot[gpt] table[x=x,y=g3]{\gG};
\addplot[gpt] table[x=x,y=g4]{\gG};
\addplot[gpt] table[x=x,y=g5]{\gG};
\addplot[bpt] coordinates {(2013.8,395)(2013.83,393)(2013.86,393.5)(2013.9,393)(2013.94,392.5)(2013.98,393.5)(2014.02,394)(2014.06,395)(2014.1,395.5)(2014.14,396)(2014.18,396.5)(2014.22,397)(2014.26,397.5)(2014.3,398)(2014.36,399)(2014.42,399.5)(2014.48,400.5)(2014.54,400.5)(2014.58,400)(2014.64,399.5)(2014.7,398.5)(2014.74,396.5)(2014.78,395.5)(2014.82,395)(2014.86,395.5)(2014.9,396)(2014.94,395.5)(2014.98,396.5)(2015.02,397)(2015.3,399.5)(2015.34,400)(2015.38,401)(2015.42,401.5)(2015.46,401)(2015.5,400.5)(2015.54,400.5)(2015.58,400)(2015.62,399.5)(2015.66,398.5)(2015.7,398)(2015.74,397.5)(2015.78,397)(2015.82,397)(2015.86,397.5)(2015.9,398)(2015.94,398.5)(2015.98,399)(2016.02,399.5)(2016.06,400)(2016.1,400.5)(2016.14,401.5)(2016.18,402)(2016.22,402)(2016.26,402.5)(2016.3,403)(2016.34,403)(2016.38,403.5)(2016.42,404)(2016.46,404.5)(2016.5,406)(2016.54,404.5)(2016.58,404.5)};
\addplot[rln] coordinates {(2009.63,389.5)(2009.71,388)(2009.79,387)(2009.84,386)(2009.9,385.5)(2009.97,384.5)(2010.08,386.5)(2010.21,389.5)(2010.34,391)(2010.42,390.5)(2010.5,391.5)(2010.63,392)(2010.71,390.5)(2010.79,391)(2010.86,389.5)(2010.95,388)(2011.02,389)(2011.07,390)(2011.18,391)(2011.31,392)(2011.41,393.5)(2011.52,394)(2011.62,394.5)(2011.7,392)(2011.81,391)(2011.91,390)(2011.99,390.5)(2012.15,393)(2012.3,393.5)(2012.43,395)(2012.57,396.5)(2012.67,395.5)(2012.78,394.5)(2012.88,393)(2012.97,391.5)(2013.09,393)(2013.24,395)(2013.38,396.5)(2013.48,398)(2013.59,399)(2013.72,398.5)(2013.8,397)(2013.85,395)(2013.93,394)(2014.0,393.5)(2014.11,394.5)(2014.24,397)(2014.4,399)(2014.58,401)(2014.69,400)(2014.79,398.5)(2014.9,397)(2015.0,398)(2015.09,399)(2015.22,399.5)(2015.35,401)(2015.45,402.5)(2015.58,402)(2015.69,401)(2015.79,399.5)(2015.9,398.5)(2016.03,399.5)(2016.18,402)(2016.34,404)(2016.45,405.5)(2016.55,405.5)(2016.63,405)};
\end{axis}

% ===== H (row 4 right) JPL/Caltech title =====
\begin{axis}[panel, rt, at={(336.5pt,-404pt)}, width=257pt, height=73pt, title={JPL/Caltech}, title style={yshift=28.5pt}]
\addplot[gpt] table[x=x,y=g1]{\gH};
\addplot[gpt] table[x=x,y=g2]{\gH};
\addplot[gpt] table[x=x,y=g3]{\gH};
\addplot[gpt] table[x=x,y=g4]{\gH};
\addplot[gpt] table[x=x,y=g5]{\gH};
\addplot[bpt] coordinates {(2011.6,395.5)(2011.65,394)(2011.7,393.5)(2011.76,392)(2011.82,391)(2011.86,390.5)(2011.92,390)(2011.98,390.5)(2012.04,391.5)(2012.1,392.5)(2012.16,393)(2012.22,394)(2012.28,394.5)(2012.34,395)(2012.4,395.5)(2012.46,396)(2012.52,397)(2012.56,398)(2012.62,397.5)(2012.68,396.5)(2012.72,395.5)(2012.78,394)(2012.84,392)(2012.88,392.5)(2012.92,391.5)(2012.98,392.5)(2013.04,393.5)(2013.1,395)(2013.16,396)(2013.22,396.5)(2013.28,397)(2013.34,398)(2013.4,399.5)(2013.46,400)(2013.52,400.5)(2013.58,400.5)(2013.64,400)(2013.7,399)(2013.76,398)(2013.82,396)(2013.86,395)(2013.9,394)(2013.94,393.5)(2013.98,395)(2014.04,397)(2014.1,398.5)(2014.16,399.5)(2014.22,400)(2014.28,400.5)(2014.34,401)(2014.4,401.5)(2014.46,401)(2014.52,401)(2014.58,400.5)(2014.64,400)(2014.7,399.5)(2014.76,399)(2014.82,398.5)(2014.88,398)(2014.94,398.5)(2015.0,399)(2015.06,399.5)(2015.12,400)(2015.18,400.5)(2015.24,401.5)(2015.3,402)(2015.34,404)(2015.4,403.5)(2015.46,404.5)(2015.52,404)(2015.58,404.5)(2015.64,404.5)(2015.7,405)(2015.76,400.5)(2015.82,400)(2015.88,399.5)(2015.94,400)(2016.0,400.5)(2016.06,401.5)(2016.12,402.5)(2016.18,403.5)(2016.24,404)(2016.3,405)(2016.36,406)(2016.42,407)(2016.48,407.5)(2016.54,407.5)(2016.6,406.5)};
\addplot[rln] coordinates {(2009.64,389.5)(2009.72,388.5)(2009.8,387.5)(2009.85,386.5)(2009.9,387)(2009.93,385.5)(2010.0,385.5)(2010.08,386.5)(2010.18,390.5)(2010.28,390.5)(2010.41,389.5)(2010.46,391.5)(2010.56,393)(2010.64,392)(2010.74,390)(2010.83,389)(2010.93,388.5)(2010.98,387)(2011.05,389)(2011.1,388.5)(2011.2,389.5)(2011.3,391)(2011.4,394.5)(2011.48,393.5)(2011.6,395)(2011.71,393)(2011.81,391)(2011.91,390)(2012.01,391)(2012.11,389.5)(2012.19,393)(2012.32,394)(2012.44,395.5)(2012.57,397.5)(2012.67,396.5)(2012.77,394.5)(2012.85,393.5)(2012.93,392)(2013.03,393)(2013.16,395.5)(2013.26,396.5)(2013.37,397.5)(2013.46,399.5)(2013.57,400)(2013.67,398.5)(2013.76,398)(2013.86,395.5)(2013.94,394.5)(2014.05,395)(2014.17,396.5)(2014.3,398)(2014.43,399.5)(2014.58,401)(2014.7,399.5)(2014.81,398.5)(2014.88,397)(2014.98,398)(2015.11,399)(2015.23,400.5)(2015.36,402.5)(2015.49,404)(2015.59,403)(2015.69,403.5)(2015.75,401)(2015.83,400.5)(2015.9,399.5)(2015.98,400.5)(2016.08,400)(2016.18,402)(2016.28,403.5)(2016.38,405.5)(2016.49,406.5)(2016.61,405)};
\end{axis}

% ===== I (row 5 left) Saga title =====
\begin{axis}[panel, yl, xl, at={(42pt,-543.5pt)}, width=264.5pt, height=71.5pt, title={Saga}, title style={yshift=36pt}]
\addplot[gpt] table[x=x,y=g1]{\gI};
\addplot[gpt] table[x=x,y=g2]{\gI};
\addplot[bpt] coordinates {(2011.82,391)(2011.86,389)(2011.88,387.5)(2011.9,388.5)(2011.96,390)(2012.02,391)(2012.08,393)(2012.14,392.5)(2012.18,395.5)(2012.24,395.5)(2012.3,396.5)(2012.36,397)(2012.42,397.5)(2012.48,397)(2012.52,397.5)(2012.56,398)(2012.62,395.5)(2012.68,394.5)(2012.72,393)(2012.76,390)(2012.82,392)(2012.88,391.5)(2012.92,391)(2012.98,392.5)(2013.04,394)(2013.1,395.5)(2013.16,396.5)(2013.22,397.5)(2013.28,398.5)(2013.34,399)(2013.4,399.5)(2013.46,400.5)(2013.52,400)(2013.58,400.5)(2013.64,398.5)(2013.7,396.5)(2013.76,395)(2013.8,392.5)(2013.84,392.5)(2013.88,393.5)(2013.94,394)(2014.0,395.5)(2014.06,397.5)(2014.12,399.5)(2014.18,399.5)(2014.22,402.3)(2014.28,400)(2014.34,401)(2014.4,401.5)(2014.46,402)(2014.52,402.5)(2014.56,402)(2014.62,401)(2014.66,399.5)(2014.8,396)(2014.86,395)(2014.92,395.5)(2014.98,397)(2015.04,398.5)(2015.1,399.5)(2015.16,400)(2015.22,402.5)(2015.28,402.5)(2015.46,404)(2015.52,403)(2015.56,401)(2015.6,400)(2015.64,400.5)(2015.82,397.5)(2015.86,398.5)(2015.9,399)(2015.94,399.5)(2016.0,400.5)(2016.1,404.5)(2016.16,405)(2016.2,406)(2016.26,405.5)};
\addplot[rln] coordinates {(2009.63,388.5)(2009.71,387.5)(2009.82,385.5)(2009.92,384.5)(2010.0,384.5)(2010.04,385.8)(2010.06,nan)(2010.08,387)(2010.13,388)(2010.15,nan)(2010.17,389.5)(2010.25,391)(2010.32,391.5)(2010.38,391)(2010.43,392.5)(2010.53,393)(2010.62,393.5)(2010.68,392)(2010.79,390.5)(2010.86,389)(2010.95,386.5)(2011.05,388)(2011.15,390.5)(2011.26,392.5)(2011.36,393)(2011.47,395)(2011.55,395)(2011.6,395.5)(2011.65,394)(2011.73,392)(2011.81,390.5)(2011.87,389.5)(2011.91,388.5)(2011.99,390)(2012.09,391.5)(2012.2,393.5)(2012.33,395)(2012.48,395)(2012.57,397.5)(2012.65,395.5)(2012.72,394.5)(2012.8,393.5)(2012.88,391.5)(2012.99,392.5)(2013.09,394)(2013.22,396.5)(2013.36,398.5)(2013.49,398)(2013.61,399.5)(2013.7,397)(2013.78,395)(2013.86,393)(2013.96,394)(2014.06,395)(2014.19,397)(2014.35,398.5)(2014.48,400)(2014.59,401)(2014.66,400)(2014.74,397.5)(2014.79,395.5)(2014.87,394.5)(2014.98,396)(2015.11,398)(2015.24,399.5)(2015.37,401)(2015.45,403)(2015.58,403)(2015.66,400)(2015.74,400)(2015.81,396.5)(2015.92,398.5)(2016.05,400.5)(2016.18,404)(2016.31,404.5)(2016.39,404.5)(2016.5,406)(2016.59,405)};
\end{axis}

% ===== J (row 5 right) Darwin title =====
\begin{axis}[panel, rt, xl, at={(336.5pt,-543.5pt)}, width=257pt, height=71.5pt, title={Darwin}, title style={yshift=36pt}]
\addplot[gpt] table[x=x,y=g1]{\gJ};
\addplot[gpt] table[x=x,y=g2]{\gJ};
\addplot[bpt] coordinates {(2009.64,385.5)(2009.7,385.8)(2009.76,386)(2009.82,386)(2009.88,385.5)(2009.94,385.3)(2010.0,385)(2010.06,385.5)(2010.12,386)(2010.18,386.5)(2010.22,386.5)(2010.95,387.5)(2011.0,388)(2011.06,388)(2011.12,388.5)(2011.18,389)(2011.24,389)(2011.3,388.5)(2011.36,389)(2011.42,388.5)(2011.5,389)(2011.56,389.5)(2011.62,390)(2011.7,390.5)(2011.78,391)(2011.84,390.5)(2011.9,390)(2011.96,390.5)(2012.02,390.5)(2012.08,390)(2012.14,389.5)(2012.2,389.5)(2012.26,390.5)(2012.3,391)(2012.36,390.5)(2012.44,389.5)(2012.5,390)(2012.56,391)(2012.62,391.5)(2012.68,391.5)(2012.74,392)(2012.8,392.5)(2012.86,393)(2012.92,393)(2012.98,393.5)(2013.04,394)(2013.1,394)(2013.16,393.5)(2013.22,393.5)(2013.28,393)(2013.34,393)(2013.4,393.5)(2013.46,393)(2013.52,393.5)(2013.58,394)(2013.64,394.5)(2013.7,395)(2013.76,394.5)(2013.82,395)(2013.88,395)(2013.94,395.5)(2014.0,396)(2014.06,396)(2014.12,396.5)(2014.18,396.5)(2014.24,397)(2014.3,396.5)(2014.36,395.5)(2014.42,395.5)(2014.48,395.5)(2014.54,396)(2014.6,396)(2014.66,396)(2014.72,396)(2014.78,396)(2014.84,396)(2014.9,396.5)(2014.96,396.5)(2015.02,397)(2015.08,397)(2015.14,397)(2015.2,397)(2015.26,396.5)(2015.32,397)(2015.38,397.5)(2015.44,398)(2015.5,398)(2015.56,398.5)(2015.62,398.5)(2015.68,398.5)(2015.74,398.5)(2015.8,398.5)(2015.86,399)(2015.92,399.5)(2015.98,399.5)(2016.04,400.5)(2016.08,401)(2016.14,400.5)(2016.2,400)(2016.26,400.5)(2016.32,400)(2016.38,399.5)};
\addplot[rln] coordinates {(2009.64,384.5)(2009.72,385.5)(2009.85,386)(2010.0,386.5)(2010.08,387.5)(2010.16,386.5)(2010.26,385.5)(2010.38,385)(2010.46,385)(2010.56,386)(2010.66,388)(2010.79,389.5)(2010.9,389)(2011.02,389)(2011.17,388.5)(2011.27,387.5)(2011.38,387)(2011.5,387.5)(2011.63,390)(2011.76,391)(2011.88,390.5)(2012.01,391.5)(2012.14,390.5)(2012.27,389.5)(2012.37,389)(2012.49,389.5)(2012.62,391.5)(2012.72,392.5)(2012.85,392.5)(2012.98,393)(2013.1,392.5)(2013.23,392.5)(2013.38,392)(2013.51,393)(2013.64,394.5)(2013.77,395)(2013.84,394.5)(2013.95,395)(2014.07,395.5)(2014.17,394.5)(2014.3,393)(2014.43,392.5)(2014.56,394.5)(2014.68,396.5)(2014.81,397)(2014.86,397.5)(2014.93,397)(2015.03,396.5)(2015.16,395.5)(2015.24,394.5)(2015.36,395.5)(2015.49,397)(2015.62,398)(2015.72,398.5)(2015.79,399.5)(2015.86,399)(2015.99,399.5)(2016.09,399.5)(2016.19,398.5)(2016.27,398.5)(2016.37,397)(2016.47,398.5)(2016.58,400.5)};
\end{axis}

% ===== K (bottom) Wollongong title =====
\begin{axis}[panel, yl, xl, at={(191.5pt,-698pt)}, width=259.5pt, height=70pt, xmin=2009.63, xmax=2016.66, title={Wollongong}, title style={yshift=36.5pt}, every axis y label/.append style={at={(axis description cs:-0.112,0.5)}}]
\addplot[bpt] coordinates {(2009.74,384.5)(2009.8,384.5)(2009.84,383.5)(2009.88,384)(2009.92,385)(2009.98,385.5)(2010.02,386.5)(2010.08,387.5)(2010.14,385.5)(2010.2,386)(2010.24,385.5)(2010.3,386.5)(2010.34,384.5)(2010.4,386)(2010.46,386.5)(2010.52,386)(2010.58,386)(2010.76,386)(2010.8,386.5)(2010.84,387.5)(2010.88,389)(2010.92,387.5)(2010.98,388)(2011.04,388)(2011.1,388)(2011.16,387.5)(2011.2,390)(2011.26,387.5)(2011.3,388)(2011.36,386.5)(2011.4,385.5)(2011.42,382)(2011.46,387)(2011.52,387)(2011.58,386.5)(2011.64,387.5)(2011.7,388)(2011.76,388.5)(2011.8,387.5)(2011.86,389)(2011.92,389.5)(2011.98,390.5)(2012.04,391.5)(2012.1,391)(2012.16,390)(2012.22,390)(2012.28,389.5)(2012.34,390)(2012.4,390)(2012.46,389.5)(2012.52,390)(2012.58,390.5)(2012.64,391)(2012.7,391)(2012.76,391)(2012.82,391.5)(2012.88,392)(2012.94,392)(2013.0,392.5)(2013.06,392.5)(2013.12,393.5)(2013.18,392.5)(2013.24,393)(2013.3,392.5)(2013.36,392.5)(2013.42,393)(2013.48,392.5)(2013.54,392.5)(2013.6,393)(2013.66,392.5)(2013.72,393)(2013.78,393.5)(2013.84,393.5)(2013.9,394)(2013.96,394)(2014.02,394.5)(2014.08,395)(2014.14,395)(2014.2,395)(2014.26,395)(2014.32,394.5)(2014.38,394.5)(2014.44,393.5)(2014.5,394)(2014.56,395)(2014.62,395.5)(2014.68,396)(2014.72,396.5)(2014.76,392)(2014.8,396)(2014.86,396.5)(2014.92,397.5)(2014.96,399)(2015.02,397)(2015.08,397)(2015.14,396.5)(2015.2,396.5)(2015.26,396.5)(2015.32,396.5)(2015.38,396.5)(2015.44,396)(2015.5,396.5)(2015.56,396.5)(2015.62,396.5)(2015.68,397)(2015.74,397.5)(2015.8,398)(2015.86,398)(2015.92,398.5)(2015.98,399.5)(2016.04,400)(2016.1,400.5)(2016.16,400.5)(2016.22,400.5)(2016.26,400.5)(2016.3,401.5)};
\addplot[rln] coordinates {(2009.64,384)(2009.74,383.8)(2009.9,385)(2010.06,386)(2010.11,387)(2010.22,385.5)(2010.38,385.5)(2010.49,386.5)(2010.62,387)(2010.7,388.5)(2010.78,388)(2010.87,387)(2011.03,387)(2011.14,388)(2011.29,387.5)(2011.43,387.5)(2011.51,388.5)(2011.67,389)(2011.73,390)(2011.86,389)(2011.97,389.5)(2012.05,390.5)(2012.15,388.5)(2012.31,388)(2012.42,389)(2012.58,389.5)(2012.74,391)(2012.91,390.5)(2013.07,391.5)(2013.23,391.5)(2013.39,392)(2013.55,392.5)(2013.71,393.5)(2013.76,394.3)(2013.87,392.5)(2013.98,394)(2014.14,394.5)(2014.3,394.5)(2014.46,393.5)(2014.57,394.5)(2014.71,395.5)(2014.84,395.5)(2014.95,396.5)(2015.0,397.5)(2015.16,397)(2015.3,396.5)(2015.43,395.5)(2015.6,396)(2015.76,396.5)(2015.92,397.5)(2016.05,398.5)(2016.19,399)(2016.32,399.5)(2016.46,400)(2016.66,399.8)};
\end{axis}
\end{tikzpicture}
\end{document}
